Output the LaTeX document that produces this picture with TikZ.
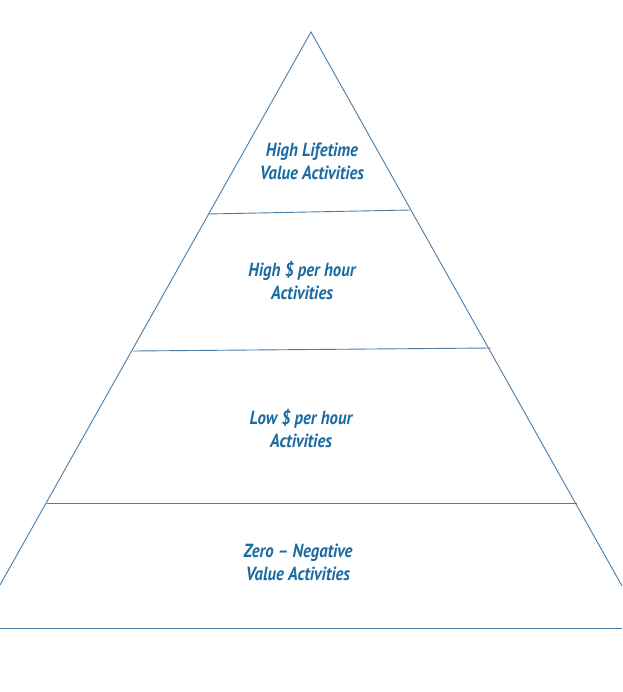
\documentclass[tikz,border=0pt]{standalone}
\usepackage{fontspec}
\newfontfamily\labfont[FakeStretch=0.88]{PT Sans}
\definecolor{linec}{HTML}{4A7DA8}
\definecolor{textc}{HTML}{1B6BA3}
\begin{document}
\begin{tikzpicture}[x=1pt,y=-1pt,
  edge/.style={draw=linec,line width=0.9pt},
  lab/.style={text=textc,font=\labfont\bfseries\itshape\fontsize{19}{23}\selectfont,align=center,inner sep=0pt}]
\useasboundingbox[fill=white] (0,0) rectangle (622,692);
\coordinate (apex) at (311,32);
\coordinate (bl) at (0,585);
\coordinate (br) at (622,586);
\coordinate (a1) at (208,214); \coordinate (b1) at (410,210);
\coordinate (a2) at (133,351); \coordinate (b2) at (491,348);
\coordinate (a3) at (47,503);  \coordinate (b3) at (577,503);
\coordinate (g1) at (0,628);   \coordinate (g2) at (622,628);
\draw[edge] (bl) -- (apex) -- (br);
\draw[edge] (a1) -- (b1);
\draw[edge] (a2) -- (b2);
\draw[edge] (a3) -- (b3);
\draw[edge] (g1) -- (g2);
\node[lab] (t1) at (312,161) {High Lifetime\\Value Activities};
\node[lab] (t2) at (302,281) {High \$ per hour\\Activities};
\node[lab] (t3) at (301,429) {Low \$ per hour\\Activities};
\node[lab] (t4) at (298,562) {Zero – Negative\\Value Activities};
\end{tikzpicture}
\end{document}
